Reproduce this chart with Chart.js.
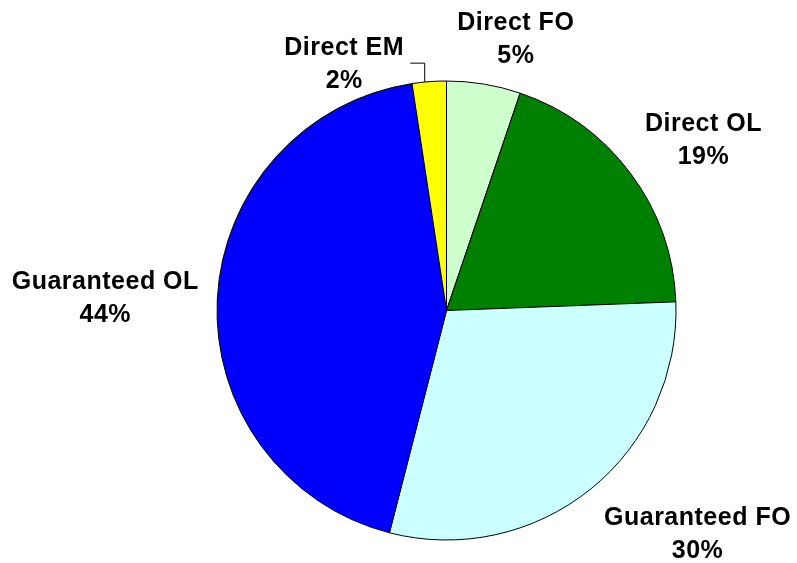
<!DOCTYPE html>
<html>
<head>
<meta charset="utf-8">
<script src="https://cdn.jsdelivr.net/npm/chart.js@4"></script>
<style>
  html, body { margin:0; padding:0; background:#fff; }
  #wrap { width:797px; height:563px; position:relative; }
</style>
</head>
<body>
<div id="wrap"><canvas id="pie"></canvas></div>
<script>
// data
const labels = ['Direct FO', 'Direct OL', 'Guaranteed FO', 'Guaranteed OL', 'Direct EM'];
const shares = [5.2, 19.2, 29.6, 43.6, 2.4];
const colors = ['#CCFFCC', '#008000', '#CCFFFF', '#0000FF', '#FFFF00'];

// label placement relative to the outer middle point of each slice (x, first baseline)
const labelShift = [[32, -54], [73, -42], [107, 36], [-112, -10], [-85, -27]];
const leaderLine = [false, false, false, false, true];

const total = shares.reduce((a, b) => a + b, 0);

const outsideLabels = {
  id: 'outsideLabels',
  afterDatasetsDraw(chart){
    const ctx = chart.ctx;
    const arcs = chart.getDatasetMeta(0).data;
    ctx.save();
    ctx.fillStyle = '#000';
    ctx.font = 'bold 25px "Liberation Sans", Arial, sans-serif';
    ctx.letterSpacing = '0.5px';
    ctx.textAlign = 'center';
    ctx.textBaseline = 'alphabetic';
    arcs.forEach((arc, i) => {
      const mid = (arc.startAngle + arc.endAngle) / 2;
      const px = arc.x + Math.cos(mid) * arc.outerRadius;
      const py = arc.y + Math.sin(mid) * arc.outerRadius;
      const x = px + labelShift[i][0];
      const y = py + labelShift[i][1];
      ctx.fillText(labels[i], x, y);
      ctx.fillText(Math.round(shares[i] / total * 100) + '%', x, y + 33);
      if (leaderLine[i]) {
        ctx.beginPath();
        ctx.strokeStyle = '#000';
        ctx.lineWidth = 1;
        ctx.moveTo(x + 66, y + 8.5);
        ctx.lineTo(px - 4.5, y + 8.5);
        ctx.lineTo(px - 4.5, py);
        ctx.stroke();
      }
    });
    ctx.restore();
  }
};

new Chart(document.getElementById('pie').getContext('2d'), {
  type: 'pie',
  data: {
    labels: labels,
    datasets: [{
      data: shares,
      backgroundColor: colors,
      borderColor: '#000',
      borderWidth: 1
    }]
  },
  options: {
    responsive: true,
    maintainAspectRatio: false,
    animation: false,
    layout: { padding: { left: 216.5, right: 120.5, top: 80.5, bottom: 22.5 } },
    plugins: { legend: { display: false }, tooltip: { enabled: false } }
  },
  plugins: [outsideLabels]
});
</script>
</body>
</html>
